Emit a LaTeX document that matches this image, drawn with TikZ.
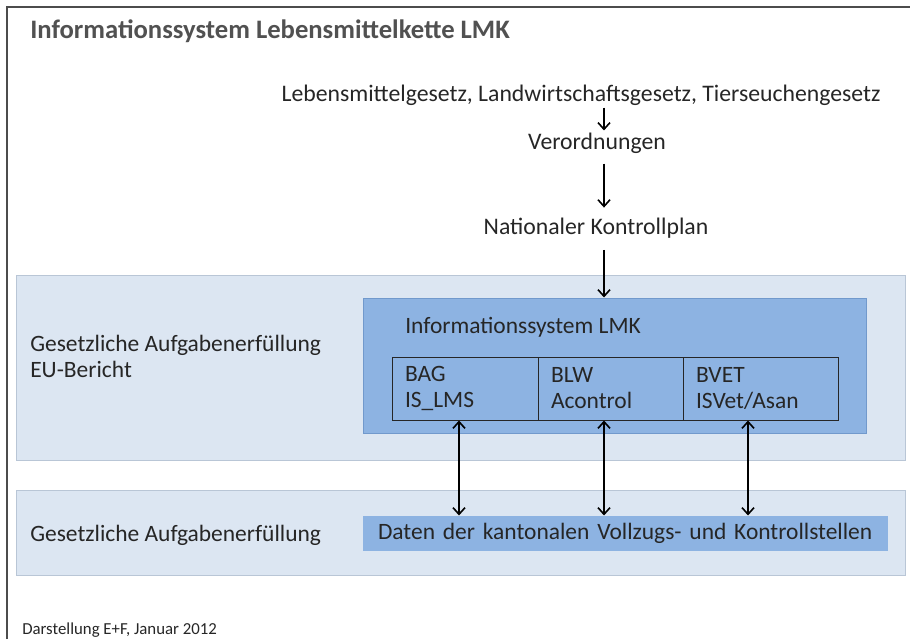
\documentclass[tikz,border=0pt]{standalone}
\usepackage{fontspec}
\setmainfont{Carlito}
\usetikzlibrary{arrows.meta}
\definecolor{bandfill}{HTML}{DCE6F2}
\definecolor{banddraw}{HTML}{B9C6D6}
\definecolor{boxfill}{HTML}{8DB3E2}
\definecolor{boxdraw}{HTML}{7199CC}
\definecolor{textgray}{HTML}{262626}
\begin{document}
\begin{tikzpicture}[x=0.75pt,y=-0.75pt]

    \tikzset{
      titel/.style={
        anchor=west,
        inner sep=0pt,
        text=textgray!80,
        font=\fontsize{20}{24}\selectfont\bfseries,
      },
      kette/.style={
        inner sep=1.5pt,
        text=textgray,
        font=\fontsize{17.8}{21}\selectfont,
      },
      beschrift/.style={
        anchor=west,
        inner sep=0pt,
        align=left,
        text=textgray,
        font=\fontsize{17.6}{19.5}\selectfont,
      },
      band/.style={
        draw=banddraw,
        fill=bandfill,
        line width=0.75pt,
        minimum width=666.75pt,
        inner sep=0pt,
      },
      lmkbox/.style={
        draw=boxdraw,
        fill=boxfill,
        line width=0.75pt,
        inner sep=0pt,
      },
      zelle/.style={
        draw=black!85,
        line width=0.75pt,
        minimum height=47.25pt,
        inner xsep=9.75pt,
        inner ysep=0pt,
        align=left,
        text=textgray,
        font=\fontsize{17.6}{19.5}\selectfont,
      },
      pfeil/.style={
        line width=1.2pt,
        -{Straight Barb[length=5pt,width=9pt,line width=1.2pt]},
      },
      doppelpfeil/.style={
        line width=1.2pt,
        {Straight Barb[length=5pt,width=9pt,line width=1.2pt]}-{Straight Barb[length=5pt,width=9pt,line width=1.2pt]},
      },
    }
    \useasboundingbox (0,0) rectangle (910,639);
    \draw[gray!60!black,line width=0.9pt] (7,639) -- (7,7) -- (910,7);

    \node[titel] (titel) at (30,31) {Informationssystem Lebensmittelkette LMK};

    \node[kette] (gesetze) at (581,95) {Lebensmittelgesetz, Landwirtschaftsgesetz, Tierseuchengesetz};
    \node[kette] (verordnungen) at (597,143) {Verordnungen};
    \node[kette] (kontrollplan) at (596,228) {Nationaler Kontrollplan};

    \node[band,minimum height=138.75pt] (band1) at (460.5,367.5) {};
    \node[band,minimum height=63.75pt] (band2) at (460.5,532.5) {};

    \node[beschrift] (eu) at (30,356) {Gesetzliche Aufgabenerfüllung\\EU-Bericht};
    \node[beschrift] (kantone) at (30,535) {Gesetzliche Aufgabenerfüllung};

    \node[lmkbox,minimum width=377.25pt,minimum height=101.25pt] (lmk) at (614.5,365.5) {};
    \node[beschrift] (lmktitel) at (405,327) {Informationssystem LMK};

    \node[zelle,text width=90pt] (bag) at (465,388.5) {BAG\\IS\_LMS};
    \node[zelle,text width=89.25pt] (blw) at (610.5,388.5) {BLW\\Acontrol};
    \node[zelle,text width=96.75pt] (bvet) at (760.5,388.5) {BVET\\ISVet/Asan};

    \node[lmkbox,draw=none,minimum height=26.25pt,text width=371.25pt,inner xsep=11.25pt,
      align=left,text=textgray,font=\fontsize{17.6}{19.5}\selectfont] (daten) at (625.5,533.5)
      {Daten der kantonalen Vollzugs- und Kontrollstellen};

    \coordinate (achse) at (604,0);
    \coordinate (p1) at (459,0);
    \coordinate (p2) at (604,0);
    \coordinate (p3) at (748,0);

    \draw[pfeil] (gesetze.south -| achse) -- (verordnungen.north -| achse);
    \draw[pfeil,shorten <=6pt,shorten >=6pt] (verordnungen.south -| achse) -- (kontrollplan.north -| achse);
    \draw[pfeil,shorten <=7pt] (kontrollplan.south -| achse) -- (lmk.north -| achse);

    \draw[doppelpfeil] (bag.south -| p1) -- (daten.north -| p1);
    \draw[doppelpfeil] (blw.south -| p2) -- (daten.north -| p2);
    \draw[doppelpfeil] (bvet.south -| p3) -- (daten.north -| p3);

    \node[beschrift,font=\fontsize{12.6}{15}\selectfont] (quelle) at (22,630) {Darstellung E+F, Januar 2012};

\end{tikzpicture}
\end{document}
